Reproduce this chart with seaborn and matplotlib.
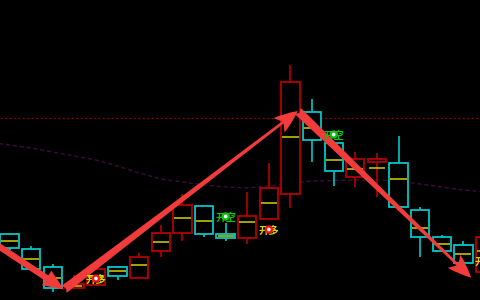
import numpy as np
import pandas as pd
import matplotlib
matplotlib.use("Agg")
import matplotlib.pyplot as plt
import seaborn as sns

# ---- data ----
idx    = list(range(23))
opens  = [66, 51, 33, 12, 15, 33, 22, 49, 67, 94, 66, 62, 81, 106, 188, 157, 123, 138, 137, 90, 63, 55, 28]
closes = [52, 31, 12, 16, 31, 24, 43, 67, 95, 66, 62, 84, 112, 218, 160, 129, 141, 141, 93, 63, 49, 37, 63]
highs  = [67, 54, 36, 25, 31, 34, 47, 75, 106, 94, 77, 108, 137, 235, 201, 157, 148, 147, 164, 93, 65, 59, 66]
lows   = [50, 31, 8, 11, 14, 20, 22, 43, 59, 63, 59, 56, 81, 92, 138, 114, 113, 103, 93, 43, 49, 34, 25]
mids   = [59, 41, 22, 14, 23, 29, 35, 58, 82, 79, 64, 78, 97, 163, 172, 140, 131, 132, 121, 72, 56, 46, 49]

ma_x = list(range(-1, 23))
ma_y = [158, 155, 152, 148, 144, 140, 134, 127, 121, 118, 115, 113, 112, 114, 117, 119, 119.5,
        120, 120, 119, 116, 113, 110, 108]

resist_level = 182

sig_x    = [4, 10, 12, 15, 22]
sig_y    = [20, 82, 69, 164, 38]
sig_text = ["开多", "开空", "开多", "开空", "开多"]
sig_kind = ["long", "short", "long", "short", "long"]

arrow_x = [-1.0, 2.52, 13.34, 21.36, 23.5]
arrow_y = [61, 10.5, 189, 22.3, 84]

# ---- style ----
sns.set_theme(style="dark", rc={"axes.facecolor": "black", "figure.facecolor": "black"})
plt.rcParams['font.family'] = ['Noto Sans CJK SC', 'DejaVu Sans']

RED = "#b40000"
CYAN = "#00c8c8"
YEL = "#d2d200"
ARROW = "#f23c3c"

fig = plt.figure(figsize=(4.8, 3.0), dpi=100)
ax = fig.add_axes([0, 0, 1, 1])
ax.set_facecolor("black")

df = pd.DataFrame({"i": idx, "o": opens, "c": closes, "h": highs, "l": lows, "m": mids})
df["col"] = np.where(df["c"] >= df["o"], RED, CYAN)

# moving-average curve
ma_df = pd.DataFrame({"x": ma_x, "y": ma_y})
sns.lineplot(data=ma_df, x="x", y="y", ax=ax, color="#3a0c3a", lw=1.0,
             linestyle=(0, (3, 2)), legend=False, zorder=1)

# resistance line
ax.axhline(resist_level, color="#8a0000", lw=0.8, linestyle=(0, (2, 2)), zorder=1)

# candles
W = 0.85
ax.vlines(df["i"], df["l"], df["h"], colors=df["col"], lw=1.2, zorder=2)
bottoms = np.minimum(df["o"], df["c"])
heights = np.abs(df["c"] - df["o"])
ax.bar(df["i"], heights, bottom=bottoms, width=W, facecolor="black",
       edgecolor=df["col"], linewidth=1.3, zorder=3)
ax.hlines(df["m"], df["i"] - W / 2 + 0.05, df["i"] + W / 2 - 0.05, colors=YEL, lw=1.1, zorder=4)

# arrows
ax.annotate("", xy=(arrow_x[1], arrow_y[1]), xytext=(arrow_x[0], arrow_y[0]),
            arrowprops=dict(arrowstyle="simple,head_length=1.5,head_width=1.25,tail_width=0.45",
                            fc=ARROW, ec="none", shrinkA=0, shrinkB=0, mutation_scale=10),
            zorder=6)
for k in range(1, len(arrow_x) - 1):
    ax.annotate("", xy=(arrow_x[k + 1], arrow_y[k + 1]), xytext=(arrow_x[k], arrow_y[k]),
                arrowprops=dict(arrowstyle="fancy,head_length=1.7,head_width=1.3,tail_width=0.62",
                                fc=ARROW, ec="none", shrinkA=0, shrinkB=0, mutation_scale=10),
                zorder=6)

# signal labels
for x, y, t, kind in zip(sig_x, sig_y, sig_text, sig_kind):
    tc = "#d8d800" if kind == "long" else "#00c800"
    cc = "#ff1010" if kind == "long" else "#10c010"
    ax.text(x, y, t, color=tc, fontsize=7.5, fontweight="bold", ha="center", va="center", zorder=7)
    ax.scatter([x], [y + 1.5], s=36, color=cc, zorder=8, edgecolors="none")
    ax.scatter([x], [y + 1.5], s=7, color="white", zorder=9, edgecolors="none")

ax.set_xlim(-0.44, 21.77)
ax.set_ylim(0, 300)
ax.axis("off")

fig.savefig("out.png", dpi=100, facecolor="black")
